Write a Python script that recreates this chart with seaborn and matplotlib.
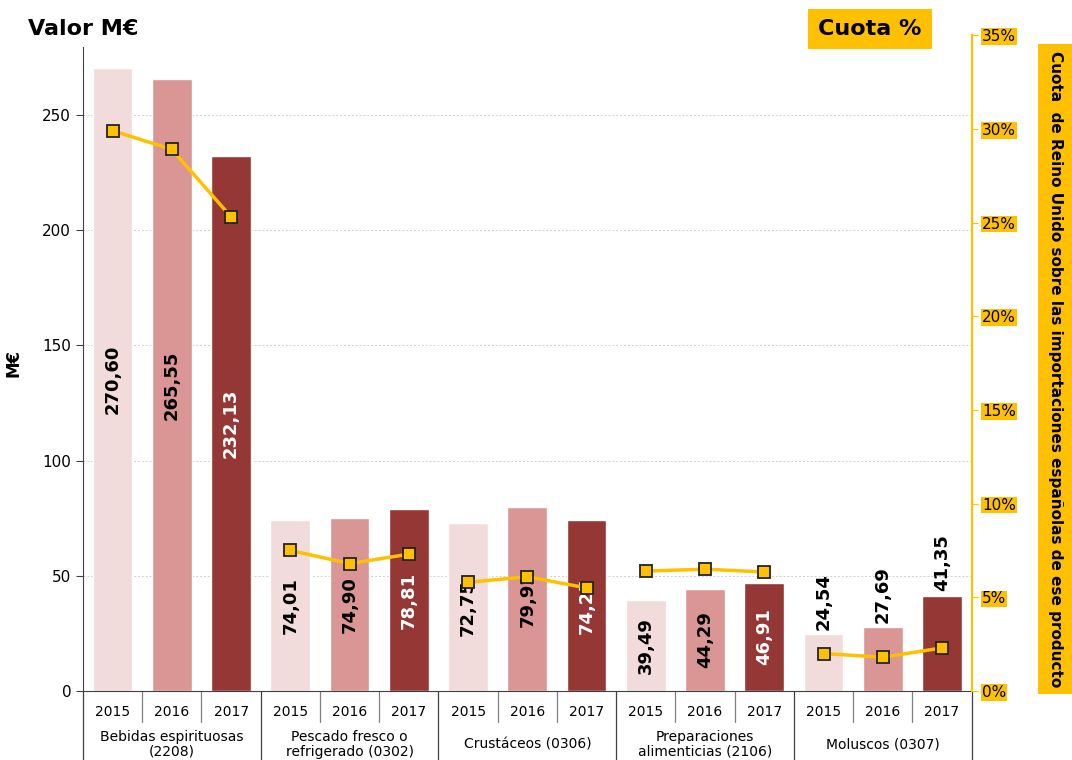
import numpy as np
import pandas as pd
import matplotlib
matplotlib.use("Agg")
import matplotlib.pyplot as plt
import matplotlib.transforms as mtransforms
from matplotlib.patches import Rectangle
import seaborn as sns

productos = ["Bebidas espirituosas\n(2208)", "Pescado fresco o\nrefrigerado (0302)",
             "Crustáceos (0306)", "Preparaciones\nalimenticias (2106)", "Moluscos (0307)"]
anios = ["2015", "2016", "2017"]
valor = [270.60, 265.55, 232.13,
         74.01, 74.90, 78.81,
         72.75, 79.92, 74.25,
         39.49, 44.29, 46.91,
         24.54, 27.69, 41.35]
cuota = [29.9, 28.9, 25.3,
         7.5, 6.8, 7.3,
         5.8, 6.1, 5.5,
         6.4, 6.5, 6.35,
         2.0, 1.8, 2.3]
colores = {"2015": "#F2DCDB", "2016": "#DA9694", "2017": "#953735"}
oro = "#FFC000"

df = pd.DataFrame({
    "producto": np.repeat(productos, 3),
    "anio": anios * len(productos),
    "valor": valor,
    "cuota": cuota,
})
df["pos"] = np.arange(len(df))
df["clave"] = df["pos"].astype(str)

sns.set_style("white")
plt.rcParams["font.family"] = ["DejaVu Sans"]
plt.rcParams["text.color"] = "black"
plt.rcParams["axes.labelcolor"] = "black"
plt.rcParams["xtick.color"] = "black"
plt.rcParams["ytick.color"] = "black"

fig = plt.figure(figsize=(10.72, 7.6), dpi=100)
ax = fig.add_axes([0.0774, 0.0908, 0.829, 0.863])

sns.barplot(data=df, x="clave", y="valor", hue="anio", palette=colores, saturation=1,
            dodge=False, width=0.67, legend=False, ax=ax, order=df["clave"])
ax.set_xlim(-0.5, len(df) - 0.5)
ax.set_ylim(0, 284.7)
ax.set_yticks([0, 50, 100, 150, 200, 250])
ax.yaxis.grid(True, linestyle=(0, (2, 2)), color="#D0D0D0", linewidth=0.7)
ax.set_axisbelow(True)
for s in ["top", "right"]:
    ax.spines[s].set_visible(False)
ax.spines["left"].set_bounds(0, 279.5)
ax.spines["left"].set_color("#404040")
ax.spines["bottom"].set_color("#404040")
ax.tick_params(axis="y", length=5, color="#404040", labelsize=11, direction="out", left=True)
ax.set_ylabel("M€", fontsize=12, fontweight="bold", labelpad=14)
ax.set_xlabel("")
ax.set_xticks(df["pos"])
ax.set_xticklabels(df["anio"], fontsize=10)
ax.tick_params(axis="x", length=0, pad=10)

# etiquetas de valor
for _, r in df.iterrows():
    txt = f"{r['valor']:.2f}".replace(".", ",")
    if r["producto"].startswith("Moluscos"):
        ax.text(r["pos"], r["valor"] + 2, txt, rotation=90, ha="center", va="bottom",
                fontsize=13, fontweight="bold", color="black")
    else:
        c = "white" if r["anio"] == "2017" else "black"
        ax.text(r["pos"], r["valor"] / 2, txt, rotation=90, ha="center", va="center",
                fontsize=13, fontweight="bold", color=c)

# tabla del eje x
trans = mtransforms.blended_transform_factory(ax.transData, ax.transAxes)
for i in range(len(df) + 1):
    x = i - 0.5
    if i % 3 == 0:
        ax.plot([x, x], [0, -0.105], transform=trans, color="#404040", lw=0.9, clip_on=False)
    else:
        ax.plot([x, x], [0, -0.047], transform=trans, color="#808080", lw=0.9, clip_on=False)
for g, p in enumerate(productos):
    ax.text(g * 3 + 1, -0.0816, p, transform=trans, ha="center", va="center", fontsize=10,
            linespacing=1.05)

# eje de cuota
ax2 = ax.twinx()
sns.lineplot(data=df, x="pos", y="cuota", units="producto", estimator=None, color=oro,
             lw=2.5, marker="s", markersize=8, markerfacecolor=oro, markeredgecolor="#222222",
             markeredgewidth=1.3, ax=ax2, legend=False)
ax2.set_ylim(0, 35)
ax2.set_yticks(range(0, 36, 5))
ax2.set_yticklabels([f"{v}%" for v in range(0, 36, 5)])
ax2.set_ylabel("")
for s in ["top", "left", "bottom"]:
    ax2.spines[s].set_visible(False)
ax2.spines["right"].set_color(oro)
ax2.spines["right"].set_linewidth(1.5)
ax2.tick_params(axis="y", colors=oro, length=4, labelsize=11, labelcolor="black", right=True)
for t in ax2.get_yticklabels():
    t.set_bbox(dict(facecolor=oro, edgecolor="none", pad=0.5))

# títulos
fig.text(0.026, 0.962, "Valor M€", fontsize=16, fontweight="bold", ha="left", va="center")
fig.text(0.8115, 0.962, "Cuota %", fontsize=16, fontweight="bold", ha="center", va="center",
         bbox=dict(facecolor=oro, edgecolor="none", boxstyle="square,pad=0.45"))
fig.patches.append(Rectangle((1038 / 1072, 66 / 760), 40 / 1072, 650 / 760,
                             transform=fig.transFigure, facecolor=oro, edgecolor="none"))
fig.text(1056 / 1072, 1 - 369 / 760,
         "Cuota  de Reino Unido sobre las importaciones españolas de ese producto",
         rotation=-90, fontsize=11, fontweight="bold", ha="center", va="center")

fig.savefig("out.png", dpi=100)
